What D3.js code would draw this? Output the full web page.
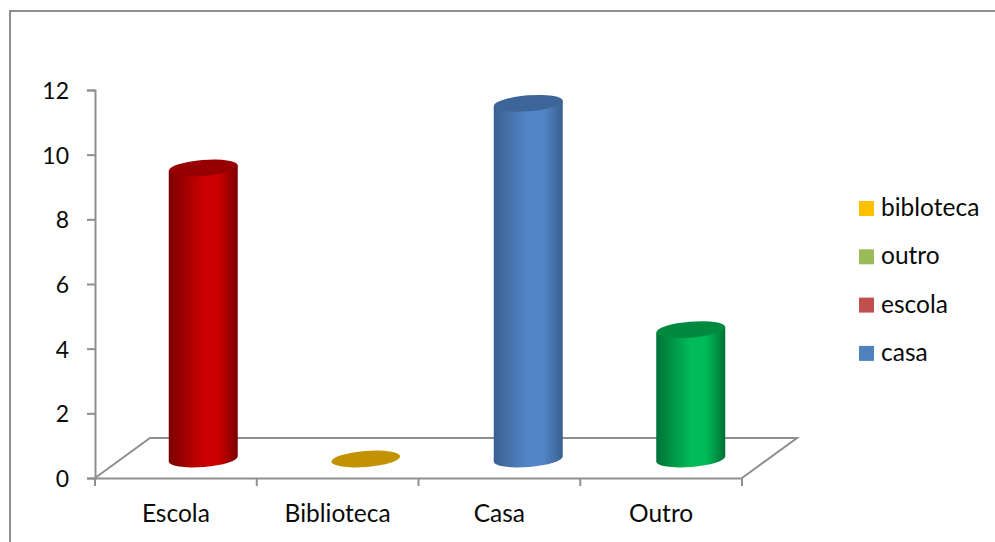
<!DOCTYPE html>
<html>
<head>
<meta charset="utf-8">
<script src="https://cdnjs.cloudflare.com/ajax/libs/d3/7.8.5/d3.min.js"></script>
<style>
html,body{margin:0;padding:0;background:#fff;overflow:hidden}
text{font-family:Lato,"Open Sans",sans-serif;fill:#0a0a0a}
</style>
</head>
<body>
<script>
// Locais de estudo: um cilindro por categoria
const categories = ["Escola", "Biblioteca", "Casa", "Outro"];
const values = [9, 0, 11, 4];
const bodyEdge = ["#7a0000", "#8a6800", "#3a6090", "#007236"];
const bodyMid = ["#cc0000", "#c49400", "#5285c8", "#00bb58"];
const capFill = ["#960000", "#c29200", "#3c669a", "#008a40"];
const yTicks = [0, 2, 4, 6, 8, 10, 12];
const legendNames = ["bibloteca", "outro", "escola", "casa"];
const legendColors = ["#ffc000", "#9bbb59", "#c0504d", "#4f81bd"];

const W = 995, H = 542;
const plot = {left: 95, right: 742, top: 90, bottom: 478};
const depth = {dx: 55, dy: 40};
const gray = "#8f8f8f";

const svg = d3.select("body").append("svg").attr("width", W).attr("height", H);

// Moldura: esquerda e topo
svg.append("path")
  .attr("d", d3.line()([[10, H], [10, 11], [W, 11]]))
  .attr("fill", "none").attr("stroke", gray).attr("stroke-width", 2);

const x = d3.scaleBand().domain(categories).range([plot.left, plot.right]);
// Os cilindros assentam a meio do piso, um pouco mais espaçados pela perspectiva
const xFloor = d3.scaleBand().domain(categories).range([plot.left + 27, plot.right + 30]);
const y = d3.scaleLinear().domain([0, 12]).range([plot.bottom, plot.top]);

// Piso em perspectiva
svg.append("path")
  .attr("d", d3.line()([
    [plot.left, plot.bottom],
    [plot.left + depth.dx, plot.bottom - depth.dy],
    [plot.right + depth.dx, plot.bottom - depth.dy],
    [plot.right, plot.bottom]
  ]))
  .attr("fill", "none").attr("stroke", gray).attr("stroke-width", 2);

// Eixos
const yAxis = svg.append("g").attr("transform", `translate(${plot.left},0)`)
  .call(d3.axisLeft(y).tickValues(yTicks).tickSize(8).tickPadding(18).tickSizeOuter(8));
const xAxis = svg.append("g").attr("transform", `translate(0,${plot.bottom})`)
  .call(d3.axisBottom(x).tickValues([]).tickSizeOuter(0));

// Marcas entre categorias no eixo horizontal
xAxis.selectAll("line.sep")
  .data(d3.range(categories.length + 1))
  .join("line").attr("class", "sep")
  .attr("x1", i => plot.left + i * x.bandwidth())
  .attr("x2", i => plot.left + i * x.bandwidth())
  .attr("y1", 0).attr("y2", 8);

svg.selectAll(".domain, .tick line, line.sep")
  .attr("stroke", gray).attr("stroke-width", 2);
yAxis.selectAll("text").attr("font-size", 23).attr("y", 1).style("font-family", "Lato");

xAxis.selectAll("text.cat")
  .data(categories)
  .join("text").attr("class", "cat")
  .attr("x", d => x(d) + x.bandwidth() / 2)
  .attr("y", 44)
  .attr("text-anchor", "middle")
  .attr("font-size", 24.5)
  .text(d => d);

// Cilindros
const defs = svg.append("defs");
const rx = 34.5, ry = 8, tilt = -4.6;
const rad = tilt * Math.PI / 180;
const halfRise = rx * Math.sin(-rad);
const baseLift = 19;

categories.forEach((c, i) => {
  const grad = defs.append("linearGradient").attr("id", "cyl" + i);
  grad.append("stop").attr("offset", "0%").attr("stop-color", bodyEdge[i]);
  grad.append("stop").attr("offset", "50%").attr("stop-color", bodyMid[i]);
  grad.append("stop").attr("offset", "72%").attr("stop-color", bodyMid[i]);
  grad.append("stop").attr("offset", "100%").attr("stop-color", bodyEdge[i]);

  const cx = xFloor(c) + xFloor.bandwidth() / 2;
  const yBase = y(0) - baseLift;
  const yTop = y(values[i]) - baseLift;

  if (values[i] > 0) {
    svg.append("path")
      .attr("d", `M${cx - rx},${yTop + halfRise} L${cx - rx},${yBase + halfRise}`
        + ` A${rx},${ry} ${tilt} 0 0 ${cx + rx},${yBase - halfRise}`
        + ` L${cx + rx},${yTop - halfRise} Z`)
      .attr("fill", `url(#cyl${i})`);
  }
  svg.append("ellipse")
    .attr("rx", rx).attr("ry", ry)
    .attr("transform", `translate(${cx},${yTop}) rotate(${tilt})`)
    .attr("fill", capFill[i]);
});

// Legenda
const legend = svg.selectAll("g.legend")
  .data(legendNames)
  .join("g").attr("class", "legend")
  .attr("transform", (d, i) => `translate(859,${201 + i * 48.3})`);
legend.append("rect").attr("width", 15).attr("height", 15)
  .attr("fill", (d, i) => legendColors[i]);
legend.append("text").attr("x", 22).attr("y", 15)
  .attr("font-size", 24.5).text(d => d);
</script>
</body>
</html>
